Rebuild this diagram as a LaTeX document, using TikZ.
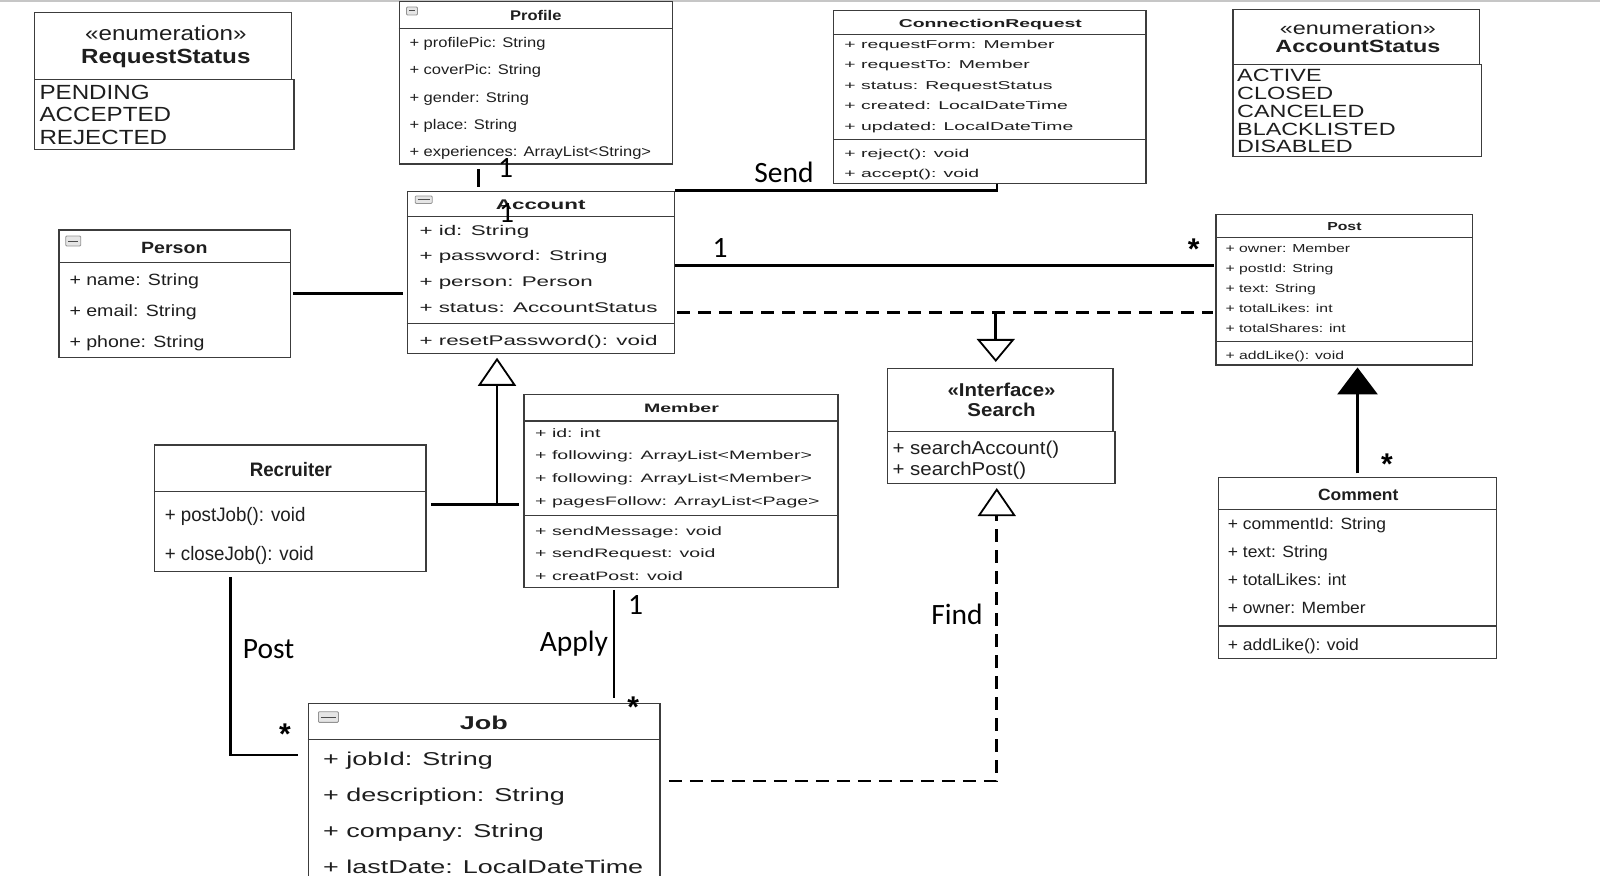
\documentclass[tikz,border=0pt]{standalone}
\usepackage{fontspec}
\setmainfont{Liberation Sans}
\newfontfamily\labelfont{Carlito}
\usetikzlibrary{arrows.meta}
\usetikzlibrary{calc}
\usetikzlibrary{fit}
\definecolor{boxline}{HTML}{3C3C3C}
\definecolor{ink}{HTML}{1E1E1E}
\newcommand\umlf[2]{\fontsize{#1}{#1}\selectfont\addfontfeatures{FakeStretch=#2}}
\newcommand\umlb[2]{\fontsize{#1}{#1}\bfseries\addfontfeatures{FakeStretch=#2}}
\tikzset{
  classbox/.style={draw=boxline, line width=1.5pt, inner sep=0pt},
  divider/.style={draw=boxline, line width=1.5pt},
  field/.style 2 args={anchor=west, inner sep=0pt, text height={0.72*#1pt}, text depth=0pt, text=ink, font=\umlf{#1}{#2}},
  header/.style 2 args={inner sep=0pt, text height={0.72*#1pt}, text depth=0pt, text=ink, font=\umlf{#1}{#2}},
  classname/.style 2 args={inner sep=0pt, text height={0.72*#1pt}, text depth=0pt, text=ink, font=\umlb{#1}{#2}},
  lbl/.style={inner sep=0pt, text height=18.6pt, text depth=0pt, font=\labelfont\fontsize{29.5}{30}\selectfont},
  star/.style={inner sep=0pt, text height=33pt, text depth=0pt, font=\fontsize{30}{30}\bfseries},
  icon/.style={draw=gray!85, fill=gray!20, line width=0.8pt, rounded corners=1pt},
  assoc/.style={line width=2.8pt},
  realize/.style={line width=2.8pt, dash pattern=on 13pt off 8pt},
  hollow/.style={-{Triangle[open, width=38pt, length=#1, line width=1.8pt]}},
  hollow/.default=26pt,
  solidtip/.style={-{Triangle[width=40pt, length=27pt]}},
}
\begin{document}
\begin{tikzpicture}[x=1pt,y=-1pt]
  \useasboundingbox (0,0) rectangle (1600,875);
  \clip (0,0) rectangle (1600,875);
  \draw[gray!45, line width=1.5pt] (0,0.8) -- (1600,0.8);

  % enumeration RequestStatus
  \node[classbox, fit={(34.3,12.7) (291.7,79.3)}] (reqstatus) {};
  \node[classbox, fit={(34.3,79.3) (294,149.3)}] (reqstatus-v) {};
  \node[header={20.5}{1.18}] (reqstatus-s) at (165.8,33.3) {«enumeration»};
  \node[classname={20.5}{1.18}] (reqstatus-n) at (165.8,55.7) {RequestStatus};
  \foreach \t [count=\i] in {PENDING, ACCEPTED, REJECTED}
    \node[field={20.5}{1.18}] (reqstatus-\i) at (39.3, {92.3+22.2*(\i-1)}) {\t};

  % Profile
  \node[classbox, fit={(399.3,1.7) (672.3,164)}] (profile) {};
  \draw[divider] (profile.west |- 0,28.7) -- (profile.east |- 0,28.7);
  \node[classname={14}{1.18}] (profile-n) at (535.8,15.7) {Profile};
  \foreach \t [count=\i] in {+ profilePic: String, + coverPic: String, + gender: String, + place: String, + experiences: ArrayList<String>}
    \node[field={14}{1.18}] (profile-\i) at (409.3, {42.7+27.25*(\i-1)}) {\t};

  % ConnectionRequest
  \node[classbox, fit={(833.7,10.7) (1146.1,183.7)}] (connreq) {};
  \draw[divider] (connreq.west |- 0,34.3) -- (connreq.east |- 0,34.3);
  \draw[divider] (connreq.west |- 0,139.3) -- (connreq.east |- 0,139.3);
  \node[classname={11.4}{1.7}] (connreq-n) at (990.3,23.3) {ConnectionRequest};
  \foreach \t [count=\i] in {+ requestForm: Member, + requestTo: Member, + status: RequestStatus, + created: LocalDateTime, + updated: LocalDateTime}
    \node[field={11.4}{1.7}] (connreq-\i) at (844.2, {44.3+20.4*(\i-1)}) {\t};
  \foreach \t [count=\i] in {+ reject(): void, + accept(): void}
    \node[field={11.4}{1.7}] (connreq-m\i) at (844.2, {153.3+20.4*(\i-1)}) {\t};

  % enumeration AccountStatus
  \node[classbox, fit={(1232.8,9.3) (1479.3,64.3)}] (accstatus) {};
  \node[classbox, fit={(1232.8,64.3) (1481.7,156.7)}] (accstatus-v) {};
  \node[header={17.7}{1.32}] (accstatus-s) at (1357.9,28.3) {«enumeration»};
  \node[classname={17.7}{1.32}] (accstatus-n) at (1357.9,46) {AccountStatus};
  \foreach \t [count=\i] in {ACTIVE, CLOSED, CANCELED, BLACKLISTED, DISABLED}
    \node[field={17.7}{1.32}] (accstatus-\i) at (1237, {75+17.9*(\i-1)}) {\t};

  % Person
  \node[classbox, fit={(59,230) (290.7,357.3)}] (person) {};
  \draw[divider] (person.west |- 0,262.3) -- (person.east |- 0,262.3);
  \node[classname={16.3}{1.2}] (person-n) at (174.3,247.3) {Person};
  \foreach \t [count=\i] in {+ name: String, + email: String, + phone: String}
    \node[field={16.3}{1.2}] (person-\i) at (69.3, {279.3+31.2*(\i-1)}) {\t};

  % Account
  \node[classbox, fit={(407.3,191.3) (674.7,353.3)}] (account) {};
  \draw[divider] (account.west |- 0,216.7) -- (account.east |- 0,216.7);
  \draw[divider] (account.west |- 0,323.3) -- (account.east |- 0,323.3);
  \node[classname={14}{1.6}] (account-n) at (540.7,204) {Account};
  \foreach \t [count=\i] in {+ id: String, + password: String, + person: Person, + status: AccountStatus}
    \node[field={14}{1.6}] (account-\i) at (419.3, {230+25.8*(\i-1)}) {\t};
  \node[field={14}{1.6}] (account-m1) at (419.3,340.7) {+ resetPassword(): void};

  % Post
  \node[classbox, fit={(1216,214.3) (1472.3,365)}] (post) {};
  \draw[divider] (post.west |- 0,237.7) -- (post.east |- 0,237.7);
  \draw[divider] (post.west |- 0,341.7) -- (post.east |- 0,341.7);
  \node[classname={11.6}{1.36}] (post-n) at (1344.4,226.7) {Post};
  \foreach \t [count=\i] in {+ owner: Member, + postId: String, + text: String, + totalLikes: int, + totalShares: int}
    \node[field={11.6}{1.36}] (post-\i) at (1225.3, {248.3+20*(\i-1)}) {\t};
  \node[field={11.6}{1.36}] (post-m1) at (1225.3,355.3) {+ addLike(): void};

  % Member
  \node[classbox, fit={(523.9,394.3) (837.8,587.3)}] (member) {};
  \draw[divider] (member.west |- 0,421) -- (member.east |- 0,421);
  \draw[divider] (member.west |- 0,515.7) -- (member.east |- 0,515.7);
  \node[classname={12.2}{1.6}] (member-n) at (681.5,408.3) {Member};
  \foreach \t [count=\i] in {+ id: int, + following: ArrayList<Member>, + following: ArrayList<Member>, + pagesFollow: ArrayList<Page>}
    \node[field={12.2}{1.6}] (member-\i) at (535, {432.7+22.67*(\i-1)}) {\t};
  \foreach \t [count=\i] in {+ sendMessage: void, + sendRequest: void, + creatPost: void}
    \node[field={12.2}{1.6}] (member-m\i) at (535, {531+22.5*(\i-1)}) {\t};

  % interface Search
  \node[classbox, fit={(887.7,368.3) (1113,431.7)}] (search) {};
  \node[classbox, fit={(887.7,431.7) (1115,483.7)}] (search-v) {};
  \node[classname={18.6}{1.1}] (search-s) at (1001.6,389.3) {«Interface»};
  \node[classname={18.6}{1.1}] (search-n) at (1001.6,410) {Search};
  \foreach \t [count=\i] in {+ searchAccount(), + searchPost()}
    \node[field={18.6}{1.1}] (search-m\i) at (892.4, {447.7+20.6*(\i-1)}) {\t};

  % Recruiter
  \node[classbox, fit={(154.3,445) (426.2,571.7)}] (recruiter) {};
  \draw[divider] (recruiter.west |- 0,491.7) -- (recruiter.east |- 0,491.7);
  \node[classname={19.5}{0.96}] (recruiter-n) at (290.9,469.3) {Recruiter};
  \foreach \t [count=\i] in {+ postJob(): void, + closeJob(): void}
    \node[field={19.5}{0.96}] (recruiter-m\i) at (164.6, {514+39.3*(\i-1)}) {\t};

  % Comment
  \node[classbox, fit={(1218.3,477.3) (1496.7,658.3)}] (comment) {};
  \draw[divider] (comment.west |- 0,509.3) -- (comment.east |- 0,509.3);
  \draw[divider] (comment.west |- 0,626) -- (comment.east |- 0,626);
  \node[classname={16.3}{1.07}] (comment-n) at (1358.2,494.3) {Comment};
  \foreach \t [count=\i] in {+ commentId: String, + text: String, + totalLikes: int, + owner: Member}
    \node[field={16.3}{1.07}] (comment-\i) at (1227.7, {524+27.9*(\i-1)}) {\t};
  \node[field={16.3}{1.07}] (comment-m1) at (1227.7,645) {+ addLike(): void};

  % Job
  \node[classbox, fit={(308.3,703.3) (660.1,900)}] (job) {};
  \draw[divider] (job.west |- 0,739.3) -- (job.east |- 0,739.3);
  \node[classname={18.6}{1.45}] (job-n) at (483.8,722.7) {Job};
  \foreach \t [count=\i] in {+ jobId: String, + description: String, + company: String, + lastDate: LocalDateTime}
    \node[field={18.6}{1.45}] (job-\i) at (323, {759+35.9*(\i-1)}) {\t};

  % collapse icons
  \foreach \x/\y/\w/\h in {412/11/11/8, 423.7/199.7/17/7.5, 73.2/241/15/10, 328.4/717/20/10.7} {
    \draw[icon] ({\x-\w/2},{\y-\h/2}) rectangle ({\x+\w/2},{\y+\h/2});
    \draw[gray!60!black, line width=1pt] ({\x-\w/2+2.5},\y) -- ({\x+\w/2-2.5},\y);
  }

  % associations
  \draw[assoc] ($(profile.south)+(-57.5,4.3)$) -- ($(profile.south |- account.north)+(-57.5,-4)$);
  \draw[assoc] (account.north east) -| ($(connreq.south)+(7,0)$);
  \draw[assoc] ($(person.east)+(2,0)$) -- ($(person.east -| account.west)+(-4,0)$);
  \draw[assoc] ($(account.east)+(0,-6.6)$) -- ($(account.east -| post.west)+(-1.5,-6.6)$);
  \draw[assoc] ($(recruiter.south)+(-59.6,4.3)$) |- ($(job.north west)+(-9.8,52.4)$);
  \draw[assoc, line width=2pt] ($(member.south)+(-66.7,1.7)$) -- ($(member.south |- job.north)+(-66.7,-5)$);
  \draw[assoc, line width=3.2pt, solidtip] ($(comment.north)+(0,-3.3)$) -- ($(comment.north |- post.south)+(0,1.7)$);

  % generalization
  \coordinate (genjoin) at ($(account.south |- recruiter.east)+(-44,-4)$);
  \draw[assoc] ($(recruiter.east)+(4,-4)$) -- ($(recruiter.east -| member.west)+(-4,-4)$);
  \draw[assoc, hollow=28pt, shorten >=3.7pt] (genjoin) -- (genjoin |- account.south);

  % realization
  \coordinate (dashstart) at ($(account.east)+(2,40)$);
  \draw[realize] (dashstart) -- ($(dashstart -| post.west)+(-2,0)$);
  \draw[assoc, hollow=23pt, shorten >=5.6pt] ($(dashstart -| search.north)+(-4.6,0)$) -- ($(search.north)+(-4.6,0)$);
  \draw[realize, hollow=28pt, shorten >=3.6pt] ($(job.north east)+(8,78.4)$) -| ($(search-v.south)+(-4.6,0)$);

  % labels
  \node[lbl] (profile-mult) at (505.7,168.3) {1};
  \node[lbl] (account-mult) at (506.7,213.3) {1};
  \node[lbl] (send) at (784,173) {Send};
  \node[lbl] (post-mult1) at (720,248.3) {1};
  \node[star] (post-mult2) at (1193.7,243.3) {*};
  \node[lbl] (post-label) at (268.6,649.3) {Post};
  \node[star] (job-mult1) at (285,728.3) {*};
  \node[lbl] (apply) at (574,641.7) {Apply};
  \node[lbl] (apply-mult1) at (635.5,605) {1};
  \node[star] (job-mult2) at (633.3,701) {*};
  \node[lbl] (find) at (956.9,615) {Find};
  \node[star] (comment-mult) at (1387,458.3) {*};
\end{tikzpicture}
\end{document}
